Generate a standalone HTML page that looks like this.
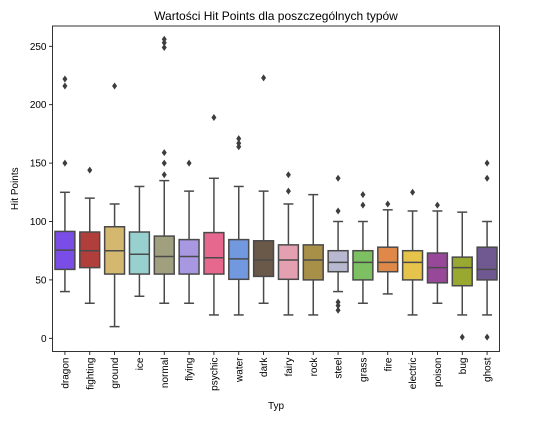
<!DOCTYPE html>
<html><head><meta charset="utf-8"><style>
body{margin:0;background:#fff;}
svg{font-family:"Liberation Sans","DejaVu Sans",sans-serif;}
</style></head><body>
<svg id="chart" width="551" height="420"></svg>
<script>
const categories=["dragon","fighting","ground","ice","normal","flying","psychic","water","dark","fairy","rock","steel","grass","fire","electric","poison","bug","ghost"];
const whiskerLow=[40,30,10,36,30,30,20,20,30,20,20,40,30,38,20,30,20,20];
const q1=[59,60.5,55,55,55,55,55,50.5,53,50.5,50,57,50,57,50,47.5,45,50];
const medians=[75.5,75,75,72,70,70,69,68,67,67,67,65,65,65,65,60.5,60.5,59];
const q3=[91.5,91,95.5,91,87.5,84.5,90.5,84.5,83.5,80,80,75,75,78,75,73,69.5,78];
const whiskerHigh=[125,120,115,130,135,126,137,130,126,115,123,100,100,110,109,109,108,100];
const outliers=[[222,216,150],[144],[216],[],[256,253,249,159,150,140],[150],[189],[171,167,164],[223],[140,126],[],[137,109,31,28,24],[123,114],[115],[125],[114],[1],[150,137,1]];
const colors=["#7a4ee6","#b03e3a","#d4b870","#98d0d0","#a0a07e","#a898e2","#e6688e","#7298e0","#6a5848","#e2a0b0","#a89048","#b8b8d0","#7cc062","#e08848","#e6c44c","#984898","#98a830","#705890"];
const yTicks=[0,50,100,150,200,250];

const NS="http://www.w3.org/2000/svg";
const svg=document.getElementById('chart');
const L=52.5,R=499.5,T=26,B=351.5;
const y=v=>338.3-v*(58.4/50);
const band=(R-L)/categories.length;
const x=i=>L+band*(i+0.5);
function mk(tag,attrs,parent){const e=document.createElementNS(NS,tag);for(const k in attrs)e.setAttribute(k,attrs[k]);(parent||svg).appendChild(e);return e;}

const title=mk('text',{x:(L+R)/2,y:20,'text-anchor':'middle','font-size':12,fill:'#000'});
title.textContent='Wartości Hit Points dla poszczególnych typów';



const ylab=mk('text',{x:0,y:0,'text-anchor':'middle','font-size':10,transform:`translate(18,${(T+B)/2}) rotate(-90)`});
ylab.textContent='Hit Points';



const xlab=mk('text',{x:(L+R)/2,y:409,'text-anchor':'middle','font-size':10});
xlab.textContent='Typ';



yTicks.forEach(v=>{
  const g=mk('g',{});
  
  
  mk('line',{x1:L-3.5,x2:L,y1:y(v),y2:y(v),stroke:'#000','stroke-width':0.8},g);
  const t=mk('text',{x:L-6,y:y(v)+3.5,'text-anchor':'end','font-size':10},g);
  t.textContent=v;
});

const bw=band*0.8, lc='#4a4a4a';
categories.forEach((c,i)=>{
  const g=mk('g',{});
  
  
  const cx=x(i);
  mk('line',{x1:cx,x2:cx,y1:y(q3[i]),y2:y(whiskerHigh[i]),stroke:lc,'stroke-width':1.5},g);
  mk('line',{x1:cx,x2:cx,y1:y(q1[i]),y2:y(whiskerLow[i]),stroke:lc,'stroke-width':1.5},g);
  mk('line',{x1:cx-bw/4,x2:cx+bw/4,y1:y(whiskerHigh[i]),y2:y(whiskerHigh[i]),stroke:lc,'stroke-width':1.5},g);
  mk('line',{x1:cx-bw/4,x2:cx+bw/4,y1:y(whiskerLow[i]),y2:y(whiskerLow[i]),stroke:lc,'stroke-width':1.5},g);
  mk('rect',{x:cx-bw/2,y:y(q3[i]),width:bw,height:y(q1[i])-y(q3[i]),fill:colors[i],stroke:lc,'stroke-width':1.5},g);
  mk('line',{x1:cx-bw/2,x2:cx+bw/2,y1:y(medians[i]),y2:y(medians[i]),stroke:lc,'stroke-width':1.5},g);
  outliers[i].forEach(v=>{
    const p=mk('path',{d:`M${cx},${y(v)-3.5}L${cx+2.5},${y(v)}L${cx},${y(v)+3.5}L${cx-2.5},${y(v)}Z`,fill:'#3d3d3d'},g);
    
    
  });
  mk('line',{x1:cx,x2:cx,y1:B,y2:B+3.5,stroke:'#000','stroke-width':0.8},g);
  const t=mk('text',{x:0,y:0,'text-anchor':'end','font-size':10,transform:`translate(${cx+3.5},${B+6}) rotate(-90)`},g);
  t.textContent=c;
  
  
});

const frame=mk('rect',{x:L,y:T,width:R-L,height:B-T,fill:'none',stroke:'#000','stroke-width':0.8});


</script>
</body></html>
